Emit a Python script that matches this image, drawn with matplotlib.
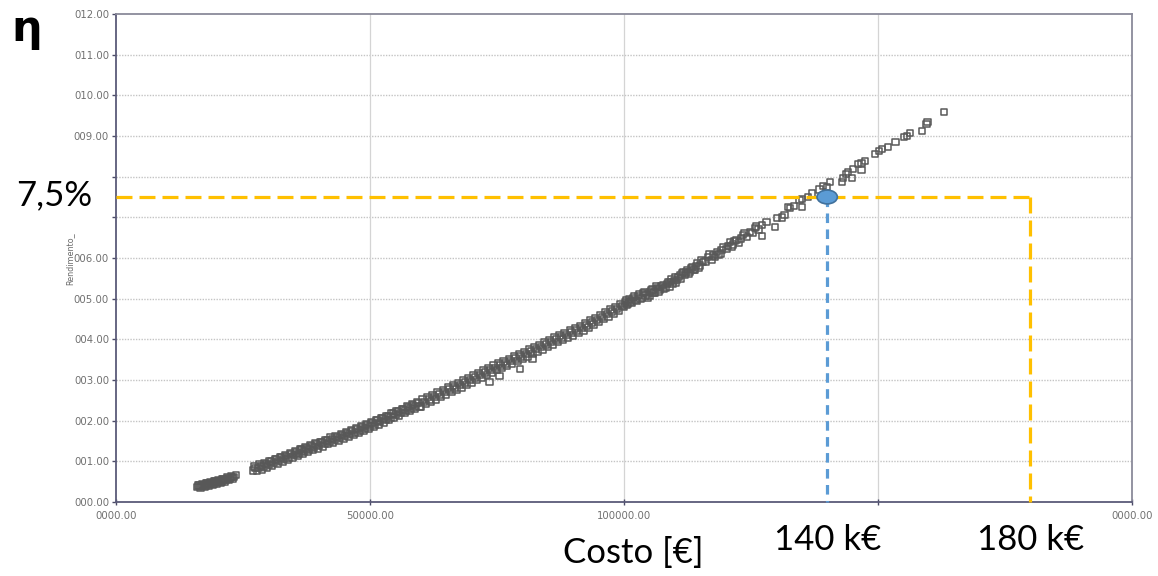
import numpy as np
import matplotlib
matplotlib.use("Agg")
import matplotlib.pyplot as plt
from matplotlib.patches import Ellipse

# ---- scatter data: cost in k€, efficiency in % ----
cost_low_k = [16.0, 16.2, 16.4, 16.6, 16.8, 17.0, 17.2, 17.4, 17.6, 17.8,
              18.0, 18.2, 18.4, 18.6, 18.8, 19.0, 19.2, 19.4, 19.6, 19.8,
              20.0, 20.2, 20.4, 20.6, 20.8, 21.0, 21.2, 21.4, 21.6, 21.8,
              22.0, 22.2, 22.4, 22.6, 22.8, 23.0, 23.2, 23.6]
eta_low = [0.37, 0.41, 0.40, 0.36, 0.39, 0.43, 0.42, 0.38, 0.41, 0.46,
           0.45, 0.41, 0.44, 0.49, 0.47, 0.43, 0.46, 0.51, 0.50, 0.46,
           0.49, 0.54, 0.52, 0.48, 0.51, 0.57, 0.55, 0.51, 0.54, 0.60,
           0.58, 0.54, 0.57, 0.63, 0.61, 0.58, 0.62, 0.66]

cost_mid_k = [27.0, 27.5, 28.0, 28.5, 29.0, 29.5, 30.0, 30.5, 31.0, 31.5,
              32.0, 32.5, 33.0, 33.5, 34.0, 34.5, 35.0, 35.5, 36.0, 36.5,
              37.0, 37.5, 38.0, 38.5, 39.0, 39.5, 40.0, 40.5, 41.0, 41.5,
              42.0, 42.5, 43.0, 43.5, 44.0, 44.5, 45.0, 45.5, 46.0, 46.5,
              47.0, 47.5, 48.0, 48.5, 49.0, 49.5, 50.0, 50.5, 51.0, 51.5,
              52.0, 52.5, 53.0, 53.5, 54.0, 54.5, 55.0, 55.5, 56.0, 56.5,
              57.0, 57.5, 58.0, 58.5, 59.0, 59.5, 36.5]
eta_mid = [0.78, 0.84, 0.83, 0.89, 0.87, 0.94, 0.91, 0.99, 0.96, 1.04,
           1.01, 1.09, 1.06, 1.13, 1.10, 1.18, 1.15, 1.22, 1.19, 1.27,
           1.24, 1.32, 1.29, 1.37, 1.34, 1.41, 1.38, 1.46, 1.43, 1.51,
           1.48, 1.55, 1.52, 1.60, 1.57, 1.65, 1.62, 1.70, 1.67, 1.74,
           1.71, 1.79, 1.76, 1.84, 1.81, 1.89, 1.86, 1.94, 1.91, 2.00,
           1.97, 2.05, 2.02, 2.11, 2.08, 2.17, 2.14, 2.22, 2.19, 2.28,
           2.25, 2.33, 2.30, 2.38, 2.35, 2.43, 1.30]

cost_mid_extra_k = [27.25, 28.25, 29.25, 30.25, 31.25, 32.25, 33.25, 34.25,
                    35.25, 36.25, 37.25, 38.25, 39.25, 40.25, 41.25, 42.25,
                    43.25, 44.25, 45.25, 46.25, 47.25, 48.25, 49.25, 50.25,
                    51.25, 52.25, 53.25, 54.25, 55.25, 56.25, 57.25, 58.25,
                    59.25,
                    27.75, 28.75, 29.75, 30.75, 31.75, 32.75, 33.75, 34.75,
                    35.75, 36.75, 37.75, 38.75, 39.75, 40.75, 41.75, 42.75,
                    43.75, 44.75, 45.75, 46.75, 47.75, 48.75, 49.75, 50.75,
                    51.75, 52.75, 53.75, 54.75, 55.75, 56.75, 57.75, 58.75,
                    59.75]
eta_mid_extra = [0.87, 0.92, 0.96, 1.01, 1.06, 1.11, 1.16, 1.20,
                 1.25, 1.29, 1.34, 1.39, 1.44, 1.48, 1.53, 1.58,
                 1.62, 1.67, 1.72, 1.77, 1.81, 1.86, 1.91, 1.96,
                 2.01, 2.07, 2.12, 2.18, 2.24, 2.29, 2.35, 2.40,
                 2.45,
                 0.76, 0.80, 0.85, 0.90, 0.95, 1.00, 1.04, 1.09,
                 1.13, 1.18, 1.23, 1.28, 1.32, 1.37, 1.42, 1.46,
                 1.51, 1.56, 1.61, 1.65, 1.70, 1.75, 1.80, 1.85,
                 1.91, 1.96, 2.02, 2.08, 2.13, 2.19, 2.24, 2.29,
                 2.34]

cost_band_k = [60.0, 60.33, 60.67, 61.0, 61.33, 61.67, 62.0, 62.33, 62.67,
               63.0, 63.33, 63.67, 64.0, 64.33, 64.67, 65.0, 65.33, 65.67,
               66.0, 66.33, 66.67, 67.0, 67.33, 67.67, 68.0, 68.33, 68.67,
               69.0, 69.33, 69.67, 70.0, 70.33, 70.67, 71.0, 71.33, 71.67,
               72.0, 72.33, 72.67, 73.0, 73.33, 73.67, 74.0, 74.33, 74.67,
               75.0, 75.33, 75.67, 76.0, 76.33, 76.67, 77.0, 77.33, 77.67,
               78.0, 78.33, 78.67, 79.0, 79.33, 79.67, 80.0, 80.33, 80.67,
               81.0, 81.33, 81.67, 82.0, 82.33, 82.67, 83.0, 83.33, 83.67,
               84.0, 84.33, 84.67, 85.0, 85.33, 85.67, 86.0, 86.33, 86.67,
               87.0, 87.33, 87.67, 88.0, 88.33, 88.67, 89.0, 89.33, 89.67,
               90.0, 90.33, 90.67, 91.0, 91.33, 91.67, 92.0, 92.33, 92.67,
               93.0, 93.33, 93.67, 94.0, 94.33, 94.67, 95.0, 95.33, 95.67,
               96.0, 96.33, 96.67, 97.0, 97.33, 97.67, 98.0, 98.33, 98.67,
               99.0, 99.33, 99.67, 73.5, 75.5, 79.5, 82.0]
eta_band = [2.35, 2.52, 2.46, 2.41, 2.58, 2.52, 2.47, 2.63, 2.58,
            2.52, 2.69, 2.64, 2.58, 2.75, 2.70, 2.64, 2.81, 2.76,
            2.70, 2.87, 2.82, 2.76, 2.93, 2.88, 2.82, 2.99, 2.94,
            2.88, 3.05, 3.00, 2.94, 3.11, 3.06, 3.00, 3.17, 3.12,
            3.06, 3.23, 3.18, 3.12, 3.29, 3.24, 3.18, 3.35, 3.30,
            3.24, 3.41, 3.36, 3.30, 3.46, 3.41, 3.35, 3.52, 3.47,
            3.41, 3.58, 3.53, 3.47, 3.63, 3.58, 3.52, 3.69, 3.64,
            3.58, 3.75, 3.70, 3.64, 3.81, 3.76, 3.70, 3.86, 3.81,
            3.75, 3.92, 3.87, 3.81, 3.98, 3.93, 3.87, 4.04, 3.99,
            3.93, 4.10, 4.05, 3.99, 4.16, 4.11, 4.05, 4.22, 4.17,
            4.10, 4.27, 4.22, 4.16, 4.33, 4.28, 4.22, 4.39, 4.34,
            4.29, 4.46, 4.41, 4.36, 4.53, 4.48, 4.43, 4.60, 4.55,
            4.50, 4.67, 4.62, 4.56, 4.73, 4.68, 4.63, 4.80, 4.75,
            4.70, 4.87, 4.82, 2.95, 3.10, 3.27, 3.52]

cost_high_k = [100.0, 100.4, 100.8, 101.3, 101.8, 102.3, 102.8, 103.2, 103.7,
               104.2, 104.7, 105.1, 105.6, 106.0, 106.5, 107.0, 107.7, 108.2,
               108.7, 109.1, 109.6, 110.0, 110.4, 111.0, 111.4, 112.0, 112.4,
               113.0, 113.4, 114.0, 114.4, 115.0, 115.6, 116.5, 117.2, 117.9,
               118.3, 119.0, 119.5, 120.2, 120.9, 121.5, 122.2, 123.0, 123.4,
               124.2, 124.8, 125.8, 126.5, 127.2, 127.2, 128.1, 129.7, 130.1,
               131.1, 131.6, 132.3, 132.7, 133.5, 134.6, 135.0, 135.0, 136.2,
               137.0, 138.5, 139.2, 140.0, 140.6]
eta_high = [4.80, 4.95, 4.88, 4.93, 5.02, 4.97, 5.06, 5.00, 5.14,
            5.08, 5.02, 5.16, 5.22, 5.15, 5.26, 5.22, 5.34, 5.28,
            5.40, 5.41, 5.36, 5.52, 5.46, 5.58, 5.63, 5.58, 5.70,
            5.66, 5.78, 5.72, 5.88, 5.82, 5.90, 6.02, 5.95, 6.02,
            6.15, 6.10, 6.27, 6.22, 6.39, 6.33, 6.44, 6.48, 6.57,
            6.52, 6.64, 6.74, 6.70, 6.81, 6.54, 6.88, 6.76, 6.98,
            7.00, 7.06, 7.25, 7.23, 7.28, 7.43, 7.45, 7.25, 7.50,
            7.58, 7.68, 7.77, 7.75, 7.87]

cost_high_extra_k = [100.2, 100.6, 101.0, 101.5, 102.0, 102.5, 103.0, 103.5,
                     104.0, 104.5, 105.0, 105.4, 105.8, 106.3, 106.8, 107.3,
                     107.9, 108.5, 109.0, 109.4, 109.8, 110.2, 110.7, 111.2,
                     111.7, 112.2, 112.7, 113.2, 113.7, 114.2, 114.7, 115.3,
                     116.0, 116.8, 117.5, 118.6, 119.2, 120.5, 121.2, 121.8,
                     122.6, 123.7, 125.3, 126.0]
eta_high_extra = [4.90, 4.84, 4.98, 4.90, 5.05, 4.94, 5.10, 5.02,
                  5.16, 5.12, 5.08, 5.20, 5.14, 5.30, 5.18, 5.30,
                  5.25, 5.36, 5.30, 5.47, 5.44, 5.40, 5.53, 5.50,
                  5.66, 5.64, 5.62, 5.74, 5.70, 5.80, 5.76, 5.94,
                  5.92, 6.08, 6.06, 6.08, 6.20, 6.30, 6.28, 6.42,
                  6.38, 6.62, 6.62, 6.78]

cost_top_k = [142.9, 143.1, 144.9, 143.7, 144.1, 145.1, 146.8, 146.1, 146.8,
              147.4, 149.4, 150.2, 150.8, 152.0, 153.5, 155.1, 155.7, 156.3,
              158.7, 159.6, 159.8, 163.0]
eta_top = [7.87, 7.97, 7.97, 8.06, 8.11, 8.19, 8.16, 8.31, 8.34,
           8.38, 8.56, 8.63, 8.68, 8.73, 8.85, 8.97, 9.00, 9.07,
           9.12, 9.29, 9.34, 9.59]

# ---- axis ticks ----
x_ticks = [0, 50000, 100000, 150000, 200000]
x_tick_labels = ["0000.00", "50000.00", "100000.00", "", "0000.00"]
y_ticks = list(range(0, 13))
y_tick_labels = ["000.00", "001.00", "002.00", "003.00", "004.00", "005.00",
                 "006.00", "", "", "009.00", "010.00", "011.00", "012.00"]

# ---- highlighted design point ----
eta_target = 7.5          # %
cost_selected = 140000    # €
cost_limit = 180000       # €

cost = np.array(cost_low_k + cost_mid_k + cost_mid_extra_k + cost_band_k
                + cost_high_k + cost_high_extra_k + cost_top_k) * 1000
eta = np.array(eta_low + eta_mid + eta_mid_extra + eta_band
               + eta_high + eta_high_extra + eta_top)

fig = plt.figure(figsize=(11.58, 5.76), dpi=100)
fig.patch.set_facecolor("white")
ax = fig.add_axes([0.1002, 0.1285, 0.8773, 0.8472])

ax.set_xlim(0, 200000)
ax.set_ylim(0, 12)

# grid: dotted horizontals, thin solid verticals
for yv in y_ticks[1:-1]:
    ax.axhline(yv, color="#c4c4c4", lw=1.0, ls=(0, (1, 1)), zorder=0)
for xv in x_ticks[1:-1]:
    ax.axvline(xv, color="#d4d4d4", lw=0.9, zorder=0)

ax.scatter(cost, eta, marker="s", s=22, facecolors="none",
           edgecolors="#585858", linewidths=1.1, zorder=2)

ax.set_xticks(x_ticks)
ax.set_xticklabels(x_tick_labels)
ax.set_yticks(y_ticks)
ax.set_yticklabels(y_tick_labels)
ax.tick_params(axis="both", labelsize=7.3, labelcolor="#707070",
               color="#4a4a66", length=3, width=1)
ax.tick_params(axis="x", direction="inout", length=5, pad=4)
ax.tick_params(axis="y", direction="out", pad=2)
for sp in ax.spines.values():
    sp.set_color("#5a5a78")
    sp.set_linewidth(1.3)
for sp in ("top", "right"):
    ax.spines[sp].set_color("#8a8a9a")

fig.text(70 / 1158, 1 - 259 / 576, "Rendimento_", rotation=90,
         fontsize=5.8, color="#6a6a6a", ha="center", va="center")

# reference lines for the selected design point
gold = "#FFC000"
blue = "#5B9BD5"
ax.plot([0, cost_limit], [eta_target, eta_target], color=gold, lw=2.3,
        ls=(0, (5, 2.2)), zorder=4, clip_on=False)
ax.plot([cost_limit, cost_limit], [eta_target, 0], color=gold, lw=2.3,
        ls=(0, (5, 2.2)), zorder=4, clip_on=False)
ax.plot([cost_selected, cost_selected], [eta_target, 0], color=blue, lw=2.3,
        ls=(0, (3, 2)), zorder=4, clip_on=False)
ax.add_patch(Ellipse((cost_selected, eta_target), width=4000, height=0.34,
                     facecolor=blue, edgecolor="#41719C", lw=1.2, zorder=5))

ann_font = dict(family="Lato", fontsize=25, color="black")
fig.text(27 / 1158, 1 - 29 / 576, "η", fontsize=31, fontweight="bold",
         family="DejaVu Sans", ha="center", va="center")
ax.annotate("7,5%", xy=(0, eta_target), xycoords="data",
            xytext=(-62, 2), textcoords="offset pixels",
            ha="center", va="center", **ann_font)
ax.annotate("140 k€", xy=(cost_selected, 0), xycoords="data",
            xytext=(0, -38), textcoords="offset pixels",
            ha="center", va="center", **ann_font)
ax.annotate("180 k€", xy=(cost_limit, 0), xycoords="data",
            xytext=(0, -38), textcoords="offset pixels",
            ha="center", va="center", **ann_font)
fig.text(633 / 1158, 1 - 553 / 576, "Costo [€]", ha="center", va="center",
         **ann_font)

fig.savefig("out.png", dpi=100, facecolor="white")
